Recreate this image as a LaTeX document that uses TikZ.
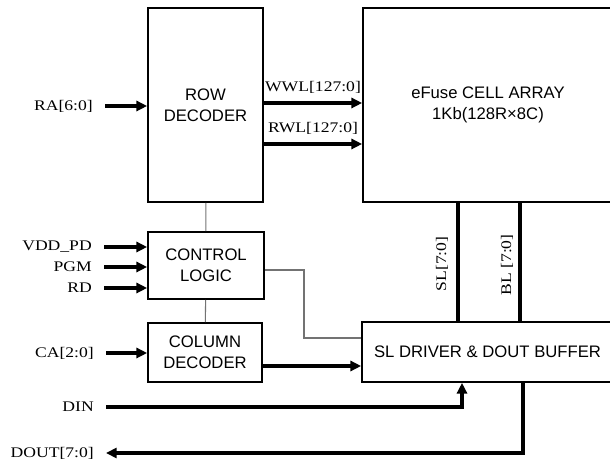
\documentclass[tikz,border=0pt]{standalone}
\usepackage{fontspec}
\usepackage{tikz}
\usetikzlibrary{arrows.meta, positioning}
\newfontfamily\boxfont{Liberation Sans}
\newfontfamily\sigfont{Liberation Serif}[FakeStretch=1.2]

\begin{document}
\begin{tikzpicture}[x=0.75pt, y=-0.75pt, >={Triangle[length=8pt, width=7.5pt]},
    block/.style={draw, line width=1.3pt, font=\boxfont\fontsize{12.5}{16}\selectfont, align=center, inner sep=0pt},
    sig/.style={font=\sigfont\fontsize{11}{13}\selectfont, anchor=east, inner xsep=9pt, inner ysep=1pt},
    lbl/.style={font=\sigfont\fontsize{11}{13}\selectfont, inner sep=0pt},
    bus/.style={line width=2.3pt},
    ctl/.style={line width=0.8pt, draw=black!55}]
    \useasboundingbox (0,0) rectangle (610,459);
    % blocks
    \node[block, minimum width=86.25pt, minimum height=145.5pt] (rowdec) at (205.5,105) {ROW\\DECODER};
    \node[block, minimum width=187.5pt, minimum height=145.5pt] (array) at (488,105) {eFuse CELL ARRAY\\1Kb(128R\texttimes8C)};
    \node[block, minimum width=87pt, minimum height=50.25pt] (ctrl) at (206,265.5) {CONTROL\\LOGIC};
    \node[block, minimum width=85.5pt, minimum height=44.25pt] (coldec) at (205,352.5) {COLUMN\\DECODER};
    \node[block, minimum width=188.25pt, minimum height=45pt] (drv) at (487.5,352) {SL DRIVER \& DOUT BUFFER};
    % pins
    \node[sig] (ra) at (105,106) {RA[6:0]};
    \node[sig] (vdd) at (104,247) {VDD\_PD};
    \node[sig] (pgm) at (104,267) {PGM};
    \node[sig] (rd) at (104,288) {RD};
    \node[sig] (ca) at (106,353) {CA[2:0]};
    \node[sig] (din) at (106,407) {DIN};
    \node[sig] (dout) at (106,453) {DOUT[7:0]};
    \node[lbl] (wwl) at (313,87) {WWL[127:0]};
    \node[lbl] (rwl) at (313,128) {RWL[127:0]};
    \node[lbl, rotate=90] (sllbl) at (442,264) {SL[7:0]};
    \node[lbl, rotate=90] (bllbl) at (507,265) {BL [7:0]};
    \coordinate (wwly) at (0,103);
    \coordinate (rwly) at (0,144);
    \coordinate (outy) at (0,366);
    \coordinate (slx) at (458,0);
    \coordinate (blx) at (520,0);
    \coordinate (dinx) at (462,0);
    \coordinate (doutx) at (523,0);
    \coordinate (bend) at (304,338);
    \coordinate (ctly) at (0,270);
    % buses
    \draw[bus, ->] (ra) -- (ra -| rowdec.west);
    \draw[bus, ->] (rowdec.east |- wwly) -- (array.west |- wwly);
    \draw[bus, ->] (rowdec.east |- rwly) -- (array.west |- rwly);
    \draw[bus, ->] (vdd) -- (vdd -| ctrl.west);
    \draw[bus, ->] (pgm) -- (pgm -| ctrl.west);
    \draw[bus, ->] (rd) -- (rd -| ctrl.west);
    \draw[bus, ->] (ca) -- (ca -| coldec.west);
    \draw[bus, ->] (coldec.east |- outy) -- (drv.west |- outy);
    \draw[bus] (array.south -| slx) -- (drv.north -| slx);
    \draw[bus] (array.south -| blx) -- (drv.north -| blx);
    \draw[bus, ->] (din) -| (drv.south -| dinx);
    \draw[bus, ->] (drv.south -| doutx) |- (dout);
    % control lines
    \draw[ctl] (rowdec) -- (ctrl);
    \draw[ctl] (ctrl) -- (coldec);
    \draw[ctl] (ctrl.east |- ctly) -| (bend) -- (bend -| drv.west);
\end{tikzpicture}
\end{document}
